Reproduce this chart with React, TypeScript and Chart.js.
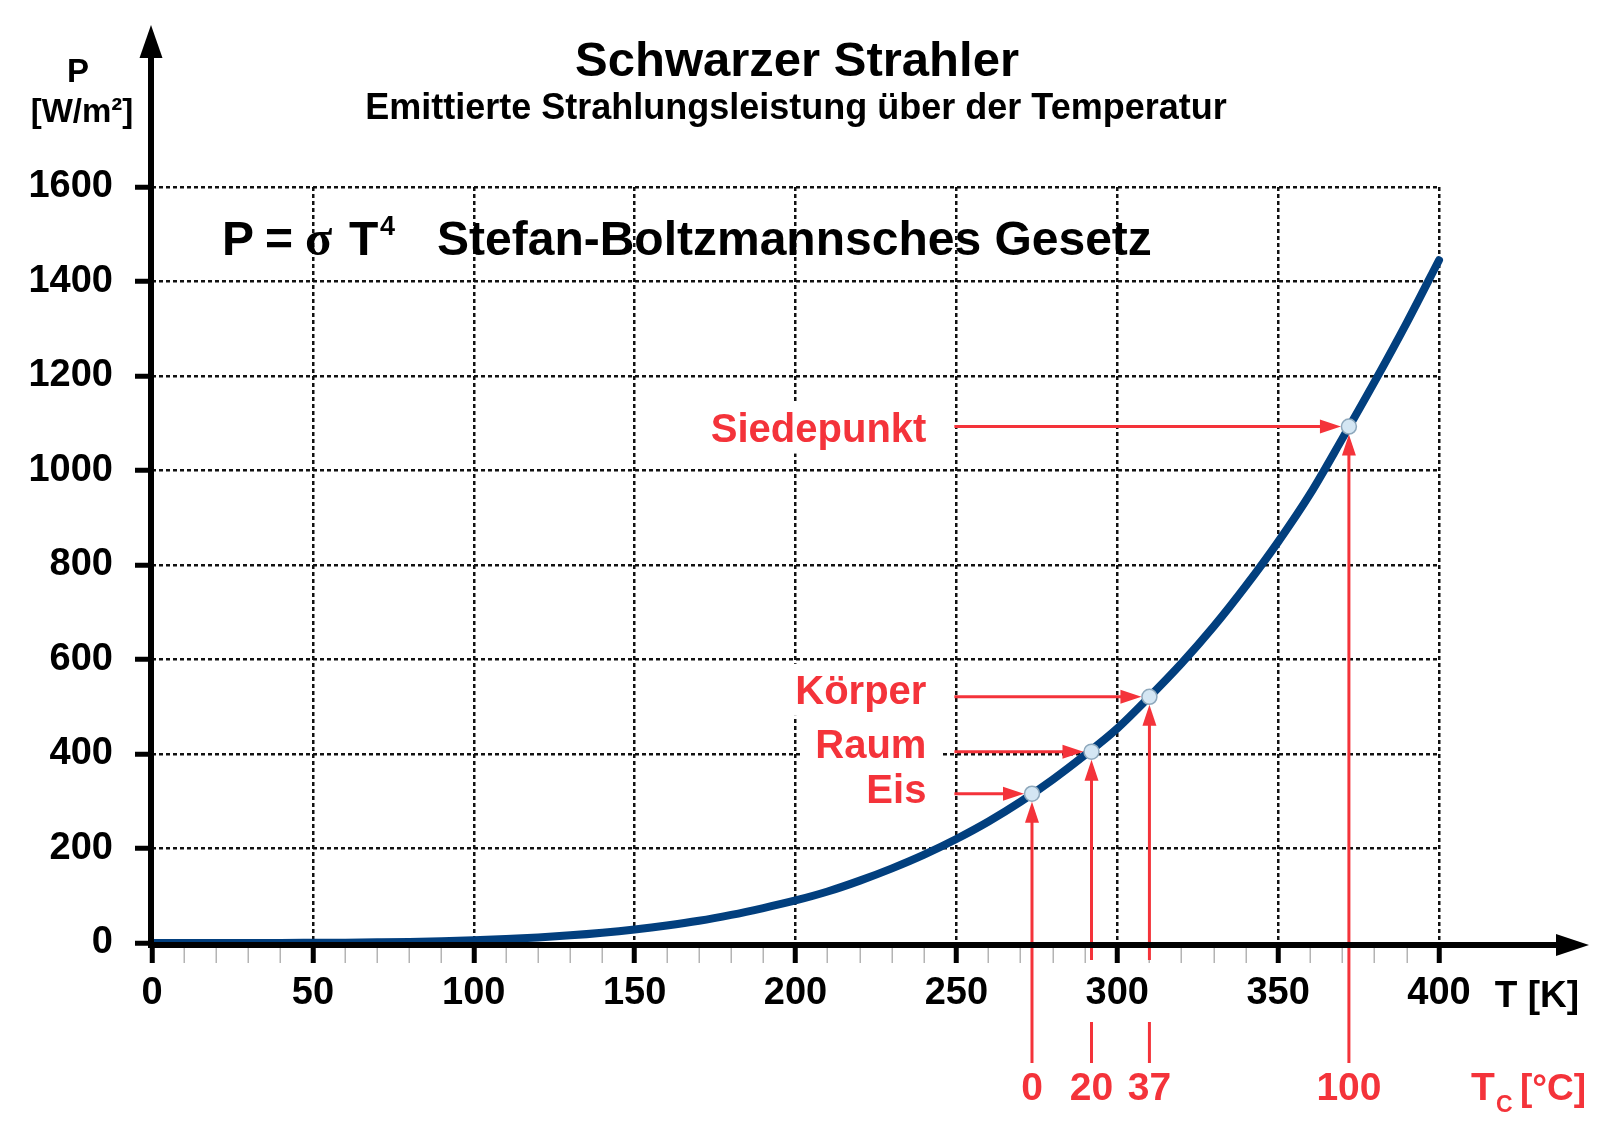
import React, { useEffect, useRef } from 'react';
import { Chart, registerables } from 'chart.js';

Chart.register(...registerables);

// ---- data ----
const tempK = [0, 10, 20, 30, 40, 50, 60, 70, 80, 90, 100, 110, 120, 130, 140, 150, 160, 170, 180, 190, 200, 210, 220, 230, 240, 250, 260, 270, 280, 290, 300, 310, 320, 330, 340, 350, 360, 370, 380, 390, 400];
const powerW = [0, 0, 0, 0, 0.1, 0.4, 0.7, 1.4, 2.3, 3.7, 5.7, 8.3, 11.8, 16.2, 21.8, 28.7, 37, 47, 59.5, 74, 90, 109, 132, 158, 187, 220, 257, 299, 346, 398, 454, 521, 592, 670, 756, 849, 951, 1068, 1188, 1313, 1445];

const markerNames = ['Eis', 'Raum', 'Körper', 'Siedepunkt'];
const markerK = [273.5, 292, 310, 372];
const markerP = [316, 405, 521, 1093];
const markerC = ['0', '20', '37', '100'];
const markerSplit = [false, true, true, false];
const labelBaselineDy = [9, 6, 7, 15];

const xMin = 0;
const xMax = 400;
const xStep = 10;
const xLabelStep = 50;
const yMin = 0;
const yMax = 1600;
const yStep = 200;

const titleText = 'Schwarzer Strahler';
const subtitleText = 'Emittierte Strahlungsleistung über der Temperatur';
const lawText = 'Stefan-Boltzmannsches Gesetz';

const SANS = "'Liberation Sans', Arial, Helvetica, sans-serif";
const SERIF = "'Liberation Serif', 'Times New Roman', serif";
const RED = '#f4333a';
const CURVE = '#023f7e';

function head(ctx: CanvasRenderingContext2D, tx: number, ty: number, dx: number, dy: number, len: number, half: number) {
  const bx = tx - dx * len;
  const by = ty - dy * len;
  const px = -dy;
  const py = dx;
  ctx.beginPath();
  ctx.moveTo(tx, ty);
  ctx.lineTo(bx + px * half, by + py * half);
  ctx.lineTo(bx - px * half, by - py * half);
  ctx.closePath();
  ctx.fill();
}

const overlay = {
  id: 'overlay',
  beforeDatasetsDraw(chart: any) {
    const ctx: CanvasRenderingContext2D = chart.ctx;
    const xs = chart.scales.x;
    const ys = chart.scales.y;
    const arrowStart = xs.getPixelForValue(250);
    ctx.save();
    ctx.font = `bold 40px ${SANS}`;
    ctx.fillStyle = '#ffffff';
    markerNames.forEach((name, i) => {
      const py = ys.getPixelForValue(markerP[i]);
      const base = py + labelBaselineDy[i];
      const right = arrowStart - 30;
      const w = ctx.measureText(name).width;
      const cy = base - 14;
      const left = right - w - 14;
      ctx.fillRect(left, cy - 26, arrowStart - 16 - left, 52);
    });
    ctx.restore();
  },
  afterDatasetsDraw(chart: any) {
    const ctx: CanvasRenderingContext2D = chart.ctx;
    const xs = chart.scales.x;
    const ys = chart.scales.y;
    const area = chart.chartArea;
    const arrowStart = xs.getPixelForValue(250);
    const axisY = area.bottom;
    const r = 8;

    ctx.save();
    // red arrows
    ctx.strokeStyle = RED;
    ctx.fillStyle = RED;
    ctx.lineWidth = 3;
    markerNames.forEach((name, i) => {
      const px = xs.getPixelForValue(markerK[i]);
      const py = ys.getPixelForValue(markerP[i]);
      // horizontal arrow
      const tipX = px - r;
      ctx.beginPath();
      ctx.moveTo(arrowStart - 2, py);
      ctx.lineTo(tipX - 18, py);
      ctx.stroke();
      head(ctx, tipX, py, 1, 0, 21, 7);
      // vertical arrow
      const tipY = py + r;
      const lowBottom = axisY + 120;
      if (markerSplit[i]) {
        ctx.beginPath();
        ctx.moveTo(px, axisY + 17);
        ctx.lineTo(px, tipY + 18);
        ctx.stroke();
        ctx.beginPath();
        ctx.moveTo(px, axisY + 79);
        ctx.lineTo(px, lowBottom);
        ctx.stroke();
      } else {
        ctx.beginPath();
        ctx.moveTo(px, lowBottom);
        ctx.lineTo(px, tipY + 18);
        ctx.stroke();
      }
      head(ctx, px, tipY, 0, -1, 21, 7);
    });

    // axes with arrows
    ctx.strokeStyle = '#000';
    ctx.fillStyle = '#000';
    ctx.lineWidth = 6;
    const ax = area.left - 1;
    const ay = area.bottom + 2;
    ctx.beginPath();
    ctx.moveTo(ax, ay + 3);
    ctx.lineTo(ax, 55);
    ctx.stroke();
    head(ctx, ax, 25, 0, -1, 33, 11.5);
    ctx.beginPath();
    ctx.moveTo(ax - 3, ay);
    ctx.lineTo(1558, ay);
    ctx.stroke();
    head(ctx, 1589, ay, 1, 0, 33, 11);
    ctx.restore();
  },
  afterDraw(chart: any) {
    const ctx: CanvasRenderingContext2D = chart.ctx;
    const xs = chart.scales.x;
    const ys = chart.scales.y;
    const arrowStart = xs.getPixelForValue(250);
    ctx.save();
    ctx.textBaseline = 'alphabetic';
    ctx.fillStyle = '#000';

    // titles
    ctx.textAlign = 'center';
    ctx.font = `bold 49px ${SANS}`;
    ctx.fillText(titleText, 797, 76);
    ctx.font = `bold 36px ${SANS}`;
    ctx.fillText(subtitleText, 796, 119);

    // y axis unit
    ctx.font = `bold 33px ${SANS}`;
    ctx.fillText('P', 78, 82);
    ctx.fillText('[W/m²]', 82, 122);

    // formula
    ctx.textAlign = 'left';
    ctx.font = `bold 48px ${SANS}`;
    ctx.fillText('P', 222, 255);
    ctx.fillText('=', 265, 255);
    ctx.font = `bold 50px ${SERIF}`;
    ctx.fillText('σ', 305, 255);
    ctx.font = `bold 48px ${SANS}`;
    ctx.fillText('T', 349, 255);
    ctx.font = `bold 27px ${SANS}`;
    ctx.fillText('4', 380, 235);
    ctx.font = `bold 48px ${SANS}`;
    ctx.fillText(lawText, 437, 255);

    // x axis unit
    ctx.textAlign = 'right';
    ctx.font = `bold 37px ${SANS}`;
    ctx.fillText('T [K]', 1579, 1007);

    // red labels
    ctx.fillStyle = RED;
    ctx.font = `bold 40px ${SANS}`;
    markerNames.forEach((name, i) => {
      const py = ys.getPixelForValue(markerP[i]);
      ctx.textAlign = 'right';
      ctx.fillText(name, arrowStart - 30, py + labelBaselineDy[i]);
    });
    ctx.font = `bold 39px ${SANS}`;
    ctx.textAlign = 'center';
    markerC.forEach((c, i) => {
      const px = xs.getPixelForValue(markerK[i]);
      ctx.fillText(c, px, 1100);
    });
    ctx.textAlign = 'left';
    ctx.font = `bold 39px ${SANS}`;
    ctx.fillText('T', 1471, 1100);
    ctx.font = `bold 23px ${SANS}`;
    ctx.fillText('C', 1496, 1112);
    ctx.font = `bold 37px ${SANS}`;
    ctx.fillText('[°C]', 1520, 1100);
    ctx.restore();
  },
};

export default function App() {
  const ref = useRef<HTMLCanvasElement | null>(null);
  useEffect(() => {
    document.body.style.margin = '0';
    const canvas = ref.current;
    if (!canvas) return;
    Chart.defaults.font.family = SANS;
    const isMajor = (c: any) => c.tick && Math.round(c.tick.value) % xLabelStep === 0;
    const chart = new Chart(canvas, {
      type: 'line',
      data: {
        datasets: [
          {
            type: 'scatter',
            label: 'Markierungen',
            data: markerK.map((k, i) => ({ x: k, y: markerP[i] })),
            pointRadius: 7.5,
            pointHoverRadius: 7.5,
            pointBackgroundColor: '#d4e6f3',
            pointBorderColor: '#8ea8bc',
            pointBorderWidth: 1.5,
            showLine: false,
            order: 0,
          } as any,
          {
            label: 'P = σT⁴',
            data: tempK.map((t, i) => ({ x: t, y: powerW[i] })),
            borderColor: CURVE,
            borderWidth: 8,
            pointRadius: 0,
            fill: false,
            cubicInterpolationMode: 'monotone',
            borderCapStyle: 'round',
            order: 1,
            clip: 20,
          } as any,
        ],
      },
      options: {
        animation: false,
        responsive: false,
        maintainAspectRatio: false,
        devicePixelRatio: 1,
        layout: { padding: { top: 187, right: 161, left: 0, bottom: 0 } },
        plugins: { legend: { display: false }, title: { display: false }, tooltip: { enabled: false } },
        events: [],
        scales: {
          x: {
            type: 'linear',
            min: xMin,
            max: xMax,
            afterFit: (s: any) => { s.height = 190; },
            grid: {
              color: (c: any) => (isMajor(c) && c.tick.value !== 0 ? '#111' : 'rgba(0,0,0,0)'),
              lineWidth: 2.5,
              tickLength: 20,
              tickColor: (c: any) => (isMajor(c) ? '#000' : '#b4b4b4'),
              tickWidth: (c: any) => (isMajor(c) ? 5 : 1.5),
              tickBorderDash: [],
            } as any,
            border: { display: false, dash: [4, 3] },
            ticks: {
              stepSize: xStep,
              autoSkip: false,
              maxTicksLimit: 1000,
              maxRotation: 0,
              minRotation: 0,
              padding: 8,
              color: '#000',
              font: { size: 38, weight: 'bold' },
              callback: (v: any) => (Math.round(v) % xLabelStep === 0 ? String(v) : ''),
            },
          },
          y: {
            type: 'linear',
            min: yMin,
            max: yMax,
            afterFit: (s: any) => { s.width = 152; },
            grid: {
              color: (c: any) => (c.tick && c.tick.value === 0 ? 'rgba(0,0,0,0)' : '#111'),
              lineWidth: 2.5,
              tickLength: 17,
              tickColor: '#000',
              tickWidth: 5,
              tickBorderDash: [],
            } as any,
            border: { display: false, dash: [4, 3] },
            ticks: {
              stepSize: yStep,
              padding: 22,
              color: '#000',
              font: { size: 38, weight: 'bold' },
              callback: (v: any) => String(v),
            },
          },
        },
      } as any,
      plugins: [overlay],
    });
    return () => chart.destroy();
  }, []);
  return (
    <div style={{ width: 1600, height: 1133, background: '#fff' }}>
      <canvas ref={ref} width={1600} height={1133} style={{ display: 'block', width: 1600, height: 1133 }} />
    </div>
  );
}
